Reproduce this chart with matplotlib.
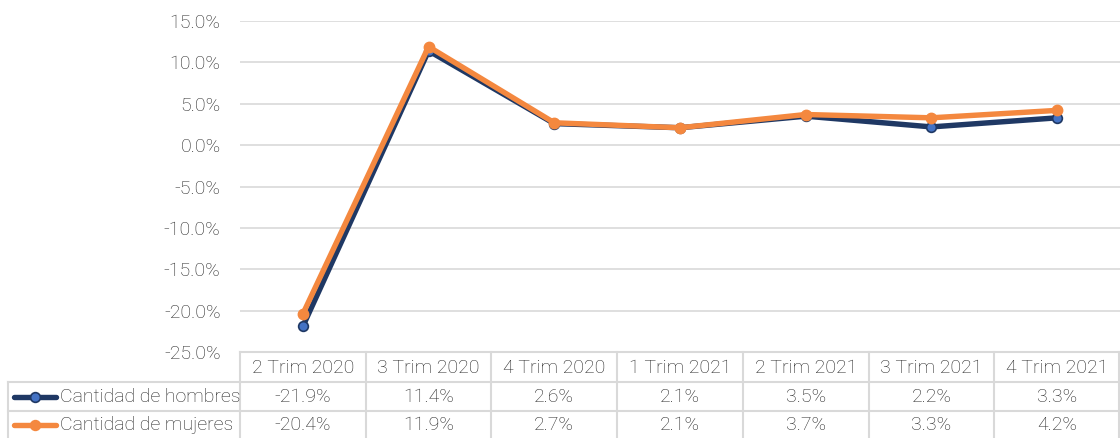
import matplotlib
matplotlib.use("Agg")
import matplotlib.pyplot as plt
from matplotlib.lines import Line2D

categories = ["2 Trim 2020", "3 Trim 2020", "4 Trim 2020", "1 Trim 2021",
              "2 Trim 2021", "3 Trim 2021", "4 Trim 2021"]
hombres = [-21.9, 11.4, 2.6, 2.1, 3.5, 2.2, 3.3]
mujeres = [-20.4, 11.9, 2.7, 2.1, 3.7, 3.3, 4.2]
series_names = ["Cantidad de hombres", "Cantidad de mujeres"]
yticks = [15, 10, 5, 0, -5, -10, -15, -20, -25]

plt.rcParams['font.family'] = ['Roboto', 'DejaVu Sans']
W, H = 1120, 438
fig = plt.figure(figsize=(W / 100, H / 100), dpi=100)

TXT = "#262626"
GRID = "#d9d9d9"
NAVY = "#1f3864"
BLUE = "#4472c4"
ORANGE = "#f4883f"
FS = 14
FW = 'light'

x0, x1 = 240, 1120
ytop, ybot = 21, 352
ax = fig.add_axes([x0 / W, (H - ybot) / H, (x1 - x0) / W, (ybot - ytop) / H])
n = len(categories)
xs = list(range(n))
ax.set_xlim(-0.5, n - 0.5)
ax.set_ylim(-25, 15)
ax.set_yticks(yticks)
ax.set_yticklabels([f"{v:.1f}%" for v in yticks], fontsize=FS, color=TXT, fontweight=FW)
ax.set_xticks([])
for s in ax.spines.values():
    s.set_visible(False)
ax.tick_params(axis='y', length=0, pad=14)
ax.grid(axis='y', color=GRID, linewidth=1.2)
ax.set_axisbelow(True)

ax.plot(xs, hombres, color=NAVY, linewidth=3.9, marker='o', markersize=7,
        markerfacecolor=BLUE, markeredgecolor=NAVY, markeredgewidth=1.2, zorder=3,
        solid_joinstyle='round')
ax.plot(xs, mujeres, color=ORANGE, linewidth=3.9, marker='o', markersize=7.5,
        markerfacecolor=ORANGE, markeredgecolor=ORANGE, zorder=4,
        solid_joinstyle='round')

# table drawn in pixel coordinates
tab = fig.add_axes([0, 0, 1, 1], facecolor='none')
tab.set_xlim(0, W)
tab.set_ylim(H, 0)
tab.axis('off')
row_y = [352, 382, 411, 438]
colw = (x1 - x0) / n
lkw = dict(color=GRID, linewidth=1.5)
tab.plot([x0, x1], [row_y[0], row_y[0]], **lkw)
tab.plot([8, x1], [row_y[1], row_y[1]], **lkw)
tab.plot([8, x1], [row_y[2], row_y[2]], **lkw)
tab.plot([8, 8], [row_y[1], H], **lkw)
for i in range(n + 1):
    xv = x0 + i * colw
    if i == n:
        xv = x1 - 1
    tab.plot([xv, xv], [row_y[0], H], **lkw)

for i, c in enumerate(categories):
    cx = x0 + (i + 0.5) * colw
    tab.text(cx, (row_y[0] + row_y[1]) / 2 + 1, c, ha='center', va='center',
             fontsize=FS, color=TXT, fontweight=FW)
    tab.text(cx, (row_y[1] + row_y[2]) / 2 + 1, f"{hombres[i]:.1f}%", ha='center', va='center',
             fontsize=FS, color=TXT, fontweight=FW)
    tab.text(cx, (row_y[2] + row_y[3]) / 2 + 1, f"{mujeres[i]:.1f}%", ha='center', va='center',
             fontsize=FS, color=TXT, fontweight=FW)

for r, (name, col, fc) in enumerate([(series_names[0], NAVY, BLUE), (series_names[1], ORANGE, ORANGE)]):
    yc = (row_y[r + 1] + row_y[r + 2]) / 2
    tab.add_line(Line2D([14, 56], [yc, yc], color=col, linewidth=3.9, solid_capstyle='round'))
    tab.plot([35], [yc], marker='o', markersize=7, markerfacecolor=fc, markeredgecolor=col,
             markeredgewidth=1.2)
    tab.text(60, yc + 1, name, ha='left', va='center', fontsize=FS, color=TXT, fontweight=FW)

fig.savefig("out.png", dpi=100)
